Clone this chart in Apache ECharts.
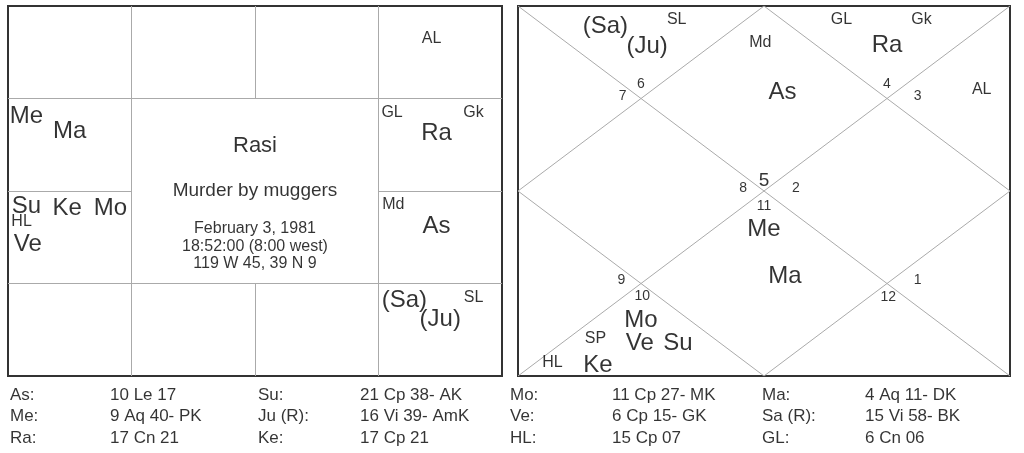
<!DOCTYPE html>
<html>
<head>
<meta charset="utf-8">
<script src="https://cdn.jsdelivr.net/npm/echarts@6/dist/echarts.min.js"></script>
<style>html,body{margin:0;padding:0;background:#fff}#c{width:1024px;height:453px}</style>
</head>
<body>
<div id="c"></div>
<script>
// South Indian (Rasi) chart: cell grid lines in house units
let southLines = [
    [[1, 0], [1, 4]], [[3, 0], [3, 4]], [[2, 0], [2, 1]], [[2, 3], [2, 4]],
    [[0, 1], [4, 1]], [[0, 3], [4, 3]], [[0, 2], [1, 2]], [[3, 2], [4, 2]]
];
let southTexts = [
    [3.43, 0.35, 'AL', 16],
    [0.15, 1.19, 'Me', 24], [0.5, 1.35, 'Ma', 24],
    [3.11, 1.15, 'GL', 16], [3.77, 1.15, 'Gk', 16], [3.47, 1.38, 'Ra', 24],
    [2.0, 1.51, 'Rasi', 22], [2.0, 2.0, 'Murder by muggers', 19],
    [2.0, 2.41, 'February 3, 1981', 16], [2.0, 2.6, '18:52:00 (8:00 west)', 16], [2.0, 2.79, '119 W 45, 39 N 9', 16],
    [3.12, 2.15, 'Md', 16], [3.47, 2.38, 'As', 24],
    [0.15, 2.17, 'Su', 24], [0.48, 2.19, 'Ke', 24], [0.83, 2.19, 'Mo', 24],
    [0.11, 2.33, 'HL', 16], [0.16, 2.58, 'Ve', 24],
    [3.21, 3.18, '(Sa)', 24], [3.5, 3.39, '(Ju)', 24], [3.77, 3.15, 'SL', 16]
];
// North Indian chart
let northTexts = [
    [0.71, 0.22, '(Sa)', 24], [1.05, 0.44, '(Ju)', 24], [1.29, 0.15, 'SL', 16],
    [1.97, 0.40, 'Md', 16], [2.15, 0.93, 'As', 24],
    [2.63, 0.15, 'GL', 16], [3.28, 0.15, 'Gk', 16], [3.0, 0.43, 'Ra', 24],
    [3.77, 0.9, 'AL', 16],
    [0.85, 0.97, '7', 14], [1.0, 0.84, '6', 14], [3.0, 0.84, '4', 14], [3.25, 0.97, '3', 14],
    [1.83, 1.97, '8', 14], [2.0, 1.89, '5', 19], [2.26, 1.97, '2', 14], [2.0, 2.16, '11', 14],
    [0.84, 2.96, '9', 14], [1.01, 3.14, '10', 14], [3.01, 3.15, '12', 14], [3.25, 2.96, '1', 14],
    [2.0, 2.42, 'Me', 24], [2.17, 2.92, 'Ma', 24],
    [1.0, 3.4, 'Mo', 24], [0.99, 3.65, 'Ve', 24], [1.3, 3.65, 'Su', 24],
    [0.63, 3.6, 'SP', 16], [0.28, 3.85, 'HL', 16], [0.65, 3.89, 'Ke', 24]
];
let northLines = [
    [[0, 0], [4, 4]], [[4, 0], [0, 4]],
    [[2, 0], [4, 2]], [[4, 2], [2, 4]], [[2, 4], [0, 2]], [[0, 2], [2, 0]]
];
// Planet table
let tableLabels = ['As:', 'Su:', 'Mo:', 'Ma:', 'Me:', 'Ju (R):', 'Ve:', 'Sa (R):', 'Ra:', 'Ke:', 'HL:', 'GL:'];
let tableValues = ['10 Le 17', '21 Cp 38- AK', '11 Cp 27- MK', '4 Aq 11- DK',
    '9 Aq 40- PK', '16 Vi 39- AmK', '6 Cp 15- GK', '15 Vi 58- BK',
    '17 Cn 21', '17 Cp 21', '15 Cp 07', '6 Cn 06'];

let font = 'Liberation Sans, Arial, sans-serif';

function axes(idx, max) {
    return {
        x: {type: 'value', gridIndex: idx, min: 0, max: max[0], show: false},
        y: {type: 'value', gridIndex: idx, min: 0, max: max[1], inverse: true, show: false}
    };
}

function lineSeries(idx, segs, color) {
    return {
        type: 'lines', coordinateSystem: 'cartesian2d', xAxisIndex: idx, yAxisIndex: idx,
        silent: true, lineStyle: {color: color, width: 1, opacity: 1},
        data: segs.map(s => ({coords: s}))
    };
}

function textSeries(idx, items, align) {
    return {
        type: 'scatter', xAxisIndex: idx, yAxisIndex: idx, symbolSize: 0, silent: true, clip: false,
        data: items.map(t => ({
            value: [t[0], t[1]],
            label: {show: true, position: 'inside', formatter: t[2], fontSize: t[3],
                fontFamily: font, color: '#000', align: align || 'center', verticalAlign: 'middle'}
        }))
    };
}

let tableItems = [];
let colX = [[10, 110], [258, 360], [510, 612], [762, 865]];
let rowY = [15, 36, 58];
tableLabels.forEach((l, i) => {
    let r = Math.floor(i / 4), c = i % 4;
    tableItems.push([colX[c][0], rowY[r], l, 17]);
    tableItems.push([colX[c][1], rowY[r], tableValues[i], 17]);
});

let a0 = axes(0, [4, 4]), a1 = axes(1, [4, 4]), a2 = axes(2, [1024, 73]);
let border = {show: true, borderColor: '#333', borderWidth: 2, backgroundColor: '#fff'};

echarts.init(document.getElementById('c')).setOption({
    animation: false,
    grid: [
        Object.assign({left: 8, top: 6, width: 494, height: 370}, border),
        Object.assign({left: 518, top: 6, width: 492, height: 370}, border),
        {left: 0, top: 380, width: 1024, height: 73}
    ],
    xAxis: [a0.x, a1.x, a2.x],
    yAxis: [a0.y, a1.y, a2.y],
    series: [
        lineSeries(0, southLines, '#aaa'),
        lineSeries(1, northLines, '#aaa'),
        textSeries(0, southTexts),
        textSeries(1, northTexts),
        textSeries(2, tableItems, 'left')
    ]
});
</script>
</body>
</html>
